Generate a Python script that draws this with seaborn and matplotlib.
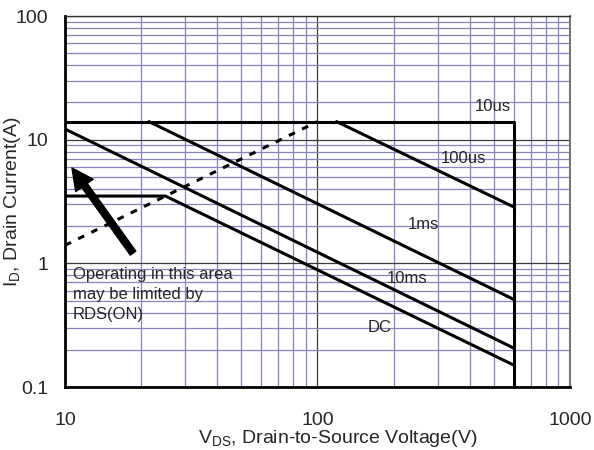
import pandas as pd
import seaborn as sns
import matplotlib.pyplot as plt
from matplotlib.ticker import LogLocator, NullFormatter, FuncFormatter

# safe operating area curves (V_DS in V, I_D in A)
v_10us = [10, 600, 600]
i_10us = [14, 14, 0.1]
v_100us = [119, 600]
i_100us = [14, 2.85]
v_1ms = [21.5, 600]
i_1ms = [14, 0.51]
v_10ms = [10, 600]
i_10ms = [12.2, 0.206]
v_dc = [10, 25, 600]
i_dc = [3.5, 3.5, 0.15]
v_rds = [10, 100]
i_rds = [1.4, 14]

labels = ["10us", "100us", "1ms", "10ms", "DC"]
label_v = [495, 377, 262, 226, 177]
label_i = [18.7, 7.0, 2.08, 0.76, 0.30]

sns.set_style("white")
plt.rcParams["font.family"] = ["Liberation Sans", "DejaVu Sans"]
plt.rcParams["mathtext.fontset"] = "custom"
plt.rcParams["mathtext.rm"] = "Liberation Sans"
plt.rcParams["mathtext.default"] = "regular"

fig, ax = plt.subplots(figsize=(5.94, 4.5), dpi=100)
fig.subplots_adjust(left=0.1094, right=0.9596, top=0.9644, bottom=0.14)

curves = [(v_10us, i_10us), (v_100us, i_100us), (v_1ms, i_1ms),
          (v_10ms, i_10ms), (v_dc, i_dc)]
for v, i in curves:
    df = pd.DataFrame({"v": v, "i": i})
    sns.lineplot(data=df, x="v", y="i", sort=False, estimator=None,
                 color="black", lw=2.2, ax=ax)

df = pd.DataFrame({"v": v_rds, "i": i_rds})
sns.lineplot(data=df, x="v", y="i", sort=False, estimator=None,
             color="black", lw=2.2, ax=ax)
ax.lines[-1].set_dashes((2.2, 2.6))

for lab, x, y in zip(labels, label_v, label_i):
    ax.text(x, y, lab, fontsize=12, ha="center", va="center")

ax.annotate("", xy=(10.66, 5.9), xytext=(18.6, 1.21),
            arrowprops=dict(arrowstyle="simple,head_width=1.1,head_length=1.1,tail_width=0.35",
                            color="black", mutation_scale=14, shrinkA=0, shrinkB=0))
ax.text(10.75, 0.94, "Operating in this area\nmay be limited by\nRDS(ON)",
        fontsize=12, ha="left", va="top", linespacing=1.45)

ax.set_xscale("log")
ax.set_yscale("log")
ax.set_xlim(10, 1000)
ax.set_ylim(0.1, 100)
ax.xaxis.set_major_locator(LogLocator(base=10))
ax.yaxis.set_major_locator(LogLocator(base=10))
ax.xaxis.set_minor_locator(LogLocator(base=10, subs=range(2, 10)))
ax.yaxis.set_minor_locator(LogLocator(base=10, subs=range(2, 10)))
ax.xaxis.set_minor_formatter(NullFormatter())
ax.yaxis.set_minor_formatter(NullFormatter())
fmt = FuncFormatter(lambda val, pos: f"{val:g}")
ax.xaxis.set_major_formatter(fmt)
ax.yaxis.set_major_formatter(fmt)
ax.tick_params(which="both", length=0, labelsize=14)
ax.tick_params(axis="x", pad=18)
ax.tick_params(axis="y", pad=12)

ax.set_axisbelow(True)
ax.grid(which="minor", color="#8585bb", lw=0.9)
ax.grid(which="major", color="#3a3a3a", lw=0.9)

for side in ["left", "bottom"]:
    ax.spines[side].set_color("black")
    ax.spines[side].set_linewidth(2)
ax.spines["top"].set_color("#333333")
ax.spines["top"].set_linewidth(1)
ax.spines["right"].set_color("#777777")
ax.spines["right"].set_linewidth(1.5)

ax.set_xlabel("$V_{DS}$, Drain-to-Source Voltage(V)", fontsize=14)
ax.set_ylabel("$I_D$, Drain Current(A)", fontsize=14)
ax.xaxis.set_label_coords(0.54, -0.11)
ax.yaxis.set_label_coords(-0.083, 0.5)

fig.savefig("out.png", dpi=100)
